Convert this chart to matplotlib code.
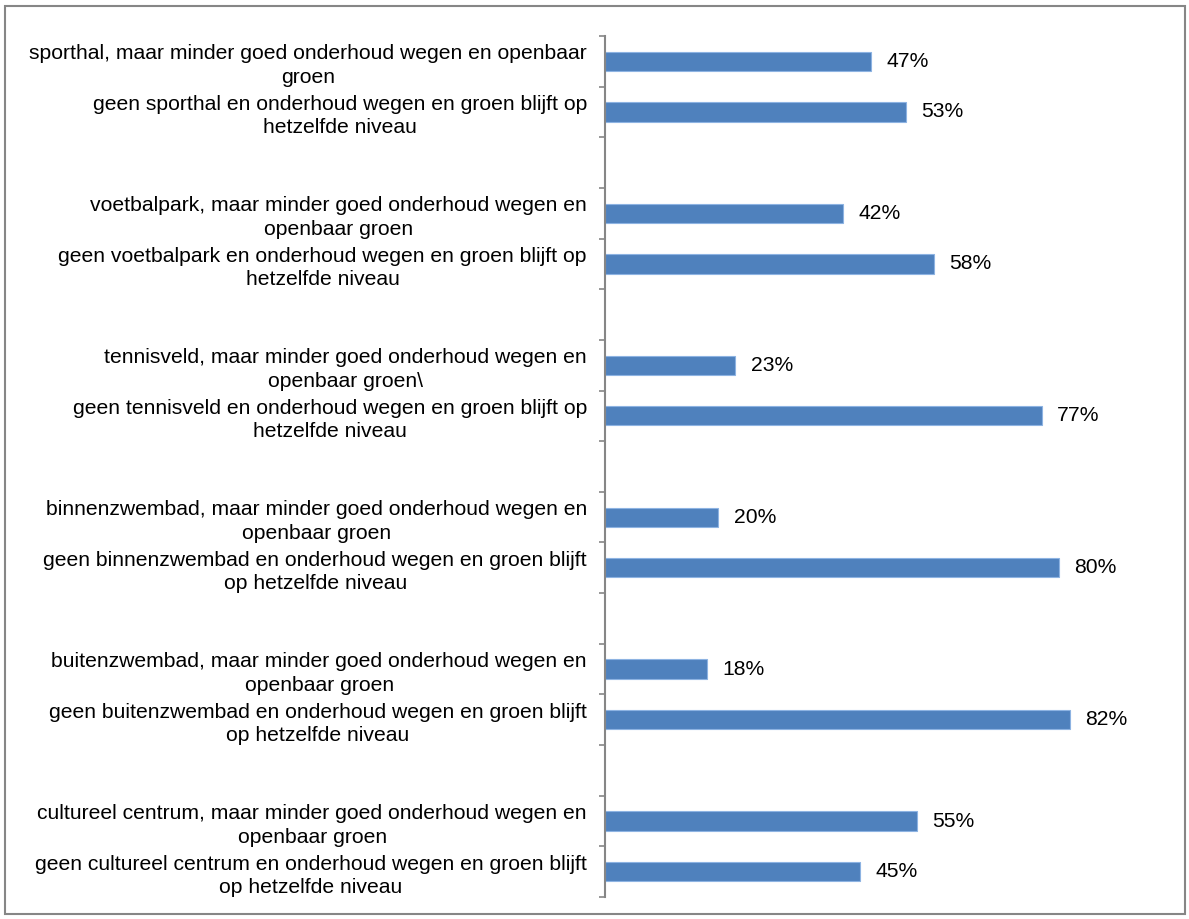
import matplotlib
matplotlib.use("Agg")
import matplotlib.pyplot as plt
from matplotlib.patches import Rectangle

plt.rcParams["font.family"] = ["Liberation Sans", "DejaVu Sans"]

# ── data ────────────────────────────────────────────────────────────────────
labels_yes = [
    "sporthal, maar minder goed onderhoud wegen en openbaar\ngroen",
    "voetbalpark, maar minder goed onderhoud wegen en\nopenbaar groen",
    "tennisveld, maar minder goed onderhoud wegen en\nopenbaar groen\\",
    "binnenzwembad, maar minder goed onderhoud wegen en\nopenbaar groen",
    "buitenzwembad, maar minder goed onderhoud wegen en\nopenbaar groen",
    "cultureel centrum, maar minder goed onderhoud wegen en\nopenbaar groen",
]
labels_no = [
    "geen sporthal en onderhoud wegen en groen blijft op\nhetzelfde niveau",
    "geen voetbalpark en onderhoud wegen en groen blijft op\nhetzelfde niveau",
    "geen tennisveld en onderhoud wegen en groen blijft op\nhetzelfde niveau",
    "geen binnenzwembad en onderhoud wegen en groen blijft\nop hetzelfde niveau",
    "geen buitenzwembad en onderhoud wegen en groen blijft\nop hetzelfde niveau",
    "geen cultureel centrum en onderhoud wegen en groen blijft\nop hetzelfde niveau",
]
pct_yes = [47, 42, 23, 20, 18, 55]
pct_no = [53, 58, 77, 80, 82, 45]

# ── colours ─────────────────────────────────────────────────────────────────
C_BAR = "#4f81bd"
C_EDGE = "#8db3e2"
C_AXIS = "#868686"
C_TEXT = "#000000"
FS = 15.2

# slots: yes, no, empty separator (no separator after the last group)
pos, vals, labels = [], [], []
for g in range(len(pct_yes)):
    pos += [3 * g, 3 * g + 1]
    vals += [pct_yes[g], pct_no[g]]
    labels += [labels_yes[g], labels_no[g]]
n_slots = 3 * len(pct_yes) - 1

fig = plt.figure(figsize=(11.89, 9.19), dpi=100)
fig.patch.set_facecolor("white")
ax = fig.add_axes([605 / 1189, 1 - 897 / 919, (1172 - 605) / 1189, (897 - 36) / 919])

ax.barh(pos, vals, height=0.38, color=C_BAR, edgecolor=C_EDGE, linewidth=0.8, zorder=2)

for p, v in zip(pos, vals):
    ax.annotate(f"{v}%", xy=(v, p), xytext=(11, 0), textcoords="offset points",
                ha="left", va="center", fontsize=FS, color=C_TEXT)

ax.set_xlim(0, 100)
ax.set_ylim(n_slots - 0.5, -0.5)

# category labels on major ticks, boundary tick marks on minor ticks
ax.set_yticks(pos)
ax.set_yticklabels(labels, fontsize=FS, color=C_TEXT)
for lab in ax.get_yticklabels():
    lab.set_multialignment("center")
    lab.set_linespacing(1.3)
ax.tick_params(axis="y", which="major", length=0, pad=13)
ax.set_yticks([i - 0.5 for i in range(n_slots + 1)], minor=True)
ax.tick_params(axis="y", which="minor", length=4, width=1.2, color=C_AXIS)

ax.xaxis.set_visible(False)
for side in ["top", "right", "bottom"]:
    ax.spines[side].set_visible(False)
ax.spines["left"].set_color(C_AXIS)
ax.spines["left"].set_linewidth(1.5)

# chart frame
fig.patches.append(Rectangle((5 / 1189, 1 - 914 / 919), 1180 / 1189, 908 / 919,
                             transform=fig.transFigure, fill=False,
                             edgecolor=C_AXIS, linewidth=1.5))

fig.savefig("out.png", dpi=100, facecolor="white")
